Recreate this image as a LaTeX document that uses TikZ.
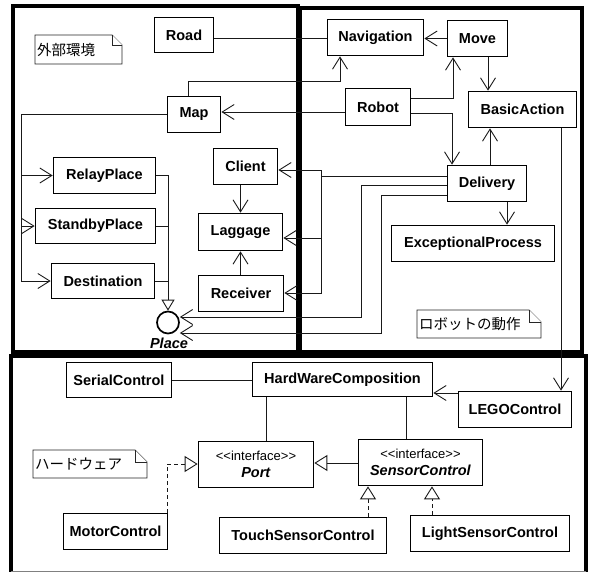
\documentclass[tikz,border=0pt]{standalone}
\usepackage{fontspec}
\setmainfont{Liberation Sans}
\newfontfamily\jpfont{Noto Sans CJK JP}
\usetikzlibrary{arrows.meta}
\begin{document}
\begin{tikzpicture}[x=1pt,y=-1pt,
  cls/.style={draw, line width=1.7pt, fill=white, inner sep=0pt,
    font=\bfseries\fontsize{14.5}{16}\selectfont},
  wh/.style 2 args={minimum width=#1, minimum height=#2},
  frame/.style={line width=3.4pt},
  conn/.style={line width=0.9pt, draw=black!90},
  nav/.style={conn, -{Straight Barb[length=12pt,width=15pt,line width=0.9pt]}},
  gen/.style={conn, -{Triangle[open,length=13pt,width=16pt,fill=white,line width=0.9pt]}},
  genS/.style={conn, -{Triangle[open,length=11pt,width=13pt,fill=white,line width=0.9pt]}},
  real/.style={gen, dash pattern=on 4pt off 3pt},
  notebox/.style={draw=black!85, line width=0.9pt, fill=white},
  notetext/.style={anchor=west, inner sep=0pt, font=\jpfont\fontsize{14.5}{16}\selectfont}
]
\useasboundingbox (0,0) rectangle (591,572);

% package frames
\draw[frame] (13,6) rectangle (298,352);
\draw[frame] (300,8) rectangle (582,352);
\draw[frame] (11,572) -- (11,356) -- (586,356) -- (586,572);
\draw[gray, line width=1pt] (11,571) -- (586,571);

% notes
\draw[notebox] (35,35) -- (112,35) -- (122,45) -- (122,64) -- (35,64) -- cycle;
\draw[notebox] (112,35) -- (112,45) -- (122,45);
\node[notetext] (noteEnv) at (37,49.5) {外部環境};
\draw[notebox] (417,310) -- (529,310) -- (541,322) -- (541,338) -- (417,338) -- cycle;
\draw[notebox] (529,310) -- (529,322) -- (541,322);
\node[notetext] (noteRobot) at (419,324) {ロボットの動作};
\draw[notebox] (33,450) -- (135,450) -- (147,462) -- (147,478) -- (33,478) -- cycle;
\draw[notebox] (135,450) -- (135,462) -- (147,462);
\node[notetext] (noteHW) at (35,464) {ハードウェア};

% left package nodes
\node[cls, wh={59pt}{35pt}] (Road) at (184,35) {Road};
\node[cls, wh={53pt}{36pt}] (Map) at (194,114.5) {Map};
\node[cls, wh={64pt}{36pt}] (Client) at (245.5,166.5) {Client};
\node[cls, wh={102pt}{36pt}] (RelayPlace) at (104.5,175.5) {RelayPlace};
\node[cls, wh={120pt}{35pt}] (StandbyPlace) at (95.5,226) {StandbyPlace};
\node[cls, wh={103pt}{35pt}] (Destination) at (103,281) {Destination};
\node[cls, wh={84pt}{37pt}] (Laggage) at (240.5,232) {Laggage};
\node[cls, wh={85pt}{36pt}] (Receiver) at (241,293.5) {Receiver};
\node[circle, draw, line width=1.7pt, fill=white, minimum size=22pt, inner sep=0pt] (Place) at (168,322.5) {};
\node[inner sep=0pt, font=\bfseries\itshape\fontsize{14.5}{16}\selectfont] (PlaceName) at (169,343) {Place};

% right package nodes
\node[cls, wh={96pt}{36pt}] (Navigation) at (375.5,37.5) {Navigation};
\node[cls, wh={60pt}{36pt}] (Move) at (477.5,38.5) {Move};
\node[cls, wh={65pt}{37pt}] (Robot) at (378,107) {Robot};
\node[cls, wh={108pt}{36pt}] (BasicAction) at (522.5,109.5) {BasicAction};
\node[cls, wh={79pt}{36pt}] (Delivery) at (487,183.5) {Delivery};
\node[cls, wh={163pt}{36pt}] (ExceptionalProcess) at (473,243.5) {ExceptionalProcess};

% hardware package nodes
\node[cls, wh={105pt}{35pt}] (SerialControl) at (119,380) {SerialControl};
\node[cls, wh={180pt}{34pt}] (HWC) at (342.5,379.5) {HardWareComposition};
\node[cls, wh={113pt}{36pt}] (LEGOControl) at (515,409.5) {LEGOControl};
\node[cls, wh={115pt}{46pt}, align=center] (Port) at (256,464.5)
  {{\mdseries\fontsize{13}{15}\selectfont <{}<interface>{}>}\\[1pt]\textit{Port}};
\node[cls, wh={124pt}{46pt}, align=center] (SensorControl) at (420.5,462.5)
  {{\mdseries\fontsize{13}{15}\selectfont <{}<interface>{}>}\\[1pt]\textit{SensorControl}};
\node[cls, wh={104pt}{36pt}] (MotorControl) at (115.5,531.5) {MotorControl};
\node[cls, wh={167pt}{36pt}] (TouchSensorControl) at (303,535.5) {TouchSensorControl};
\node[cls, wh={159pt}{36pt}] (LightSensorControl) at (490,533.5) {LightSensorControl};

% ---- connectors: left package
\coordinate (ml) at (21,115);
\draw[nav] (Map.west) -| (ml |- Destination.west) -- (Destination.west);
\draw[nav] (ml |- RelayPlace.west) -- (RelayPlace.west);
\draw[nav] (ml |- StandbyPlace.west) -- (StandbyPlace.west);
\draw[conn] (RelayPlace.east) -- (RelayPlace.east -| Place.north);
\draw[conn] (StandbyPlace.east) -- (StandbyPlace.east -| Place.north);
\draw[conn] (Destination.east) -- (Destination.east -| Place.north);
\draw[genS] (RelayPlace.east -| Place.north) -- (Place.north);
\draw[nav] (Laggage.north |- Client.south) -- (Laggage.north);
\draw[nav] (Laggage.south |- Receiver.north) -- (Laggage.south);

% ---- connectors: right package
\coordinate (rn) at (0,38);
\draw[conn] (Road.east |- rn) -- (Navigation.west |- rn);
\draw[nav] (Move.west) -- (Move.west -| Navigation.east);
\coordinate (mb) at (488,0);
\draw[nav] (Move.south -| mb) -- (BasicAction.north -| mb);
\coordinate (rm) at (453,98);
\draw[nav] (Robot.east |- rm) -- (rm) -- (rm |- Move.south);
\coordinate (rd) at (452,113);
\draw[nav] (Robot.east |- rd) -- (rd) -- (rd |- Delivery.north);
\coordinate (mn1) at (188,81);
\coordinate (mn2) at (340,81);
\draw[nav] (Map.north -| mn1) -- (mn1) -- (mn2) -- (mn2 |- Navigation.south);
\coordinate (rmap) at (0,112);
\draw[nav] (Robot.west |- rmap) -- (Map.east |- rmap);
\coordinate (db) at (490,0);
\draw[nav] (Delivery.north -| db) -- (BasicAction.south -| db);
\coordinate (bl) at (561,0);
\draw[nav] (BasicAction.south -| bl) -- (LEGOControl.north -| bl);
\coordinate (de) at (507,0);
\draw[nav] (Delivery.south -| de) -- (ExceptionalProcess.north -| de);
\coordinate (dc1) at (321,176);
\coordinate (dc2) at (321,170);
\coordinate (dl) at (321,238);
\coordinate (dr) at (321,293);
\draw[nav] (Delivery.west |- dc1) -- (dc1) -- (dc2) -- (Client.east |- dc2);
\draw[nav] (dc1) -- (dl) -- (Laggage.east |- dl);
\draw[nav] (dl) -- (dr) -- (Receiver.east |- dr);
\coordinate (dp1) at (361,185);
\coordinate (dp2) at (361,317);
\draw[nav] (Delivery.west |- dp1) -- (dp1) -- (dp2) -- (Place.east |- dp2);
\coordinate (dp3) at (381,195);
\coordinate (dp4) at (381,333);
\draw[nav] (Delivery.west |- dp3) -- (dp3) -- (dp4) -- (Place.east |- dp4);

% ---- connectors: hardware package
\draw[conn] (SerialControl.east) -- (SerialControl.east -| HWC.west);
\coordinate (lh) at (0,393);
\draw[nav] (LEGOControl.west |- lh) -- (HWC.east |- lh);
\coordinate (hp) at (266,0);
\coordinate (hs) at (406,0);
\draw[conn] (HWC.south -| hp) -- (Port.north -| hp);
\draw[conn] (HWC.south -| hs) -- (SensorControl.north -| hs);
\coordinate (sp) at (0,463);
\draw[gen] (SensorControl.west |- sp) -- (Port.east |- sp);
\coordinate (mp) at (167,464);
\draw[real] (MotorControl.north -| mp) -- (mp) -- (Port.west |- mp);
\coordinate (ts) at (368,0);
\coordinate (ls) at (432,0);
\draw[real] (TouchSensorControl.north -| ts) -- (SensorControl.south -| ts);
\draw[real] (LightSensorControl.north -| ls) -- (SensorControl.south -| ls);
\end{tikzpicture}
\end{document}
